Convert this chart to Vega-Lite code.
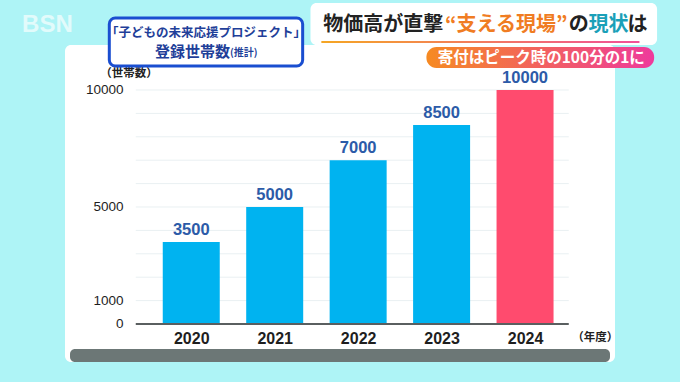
{
  "$schema": "https://vega.github.io/schema/vega-lite/v6.json",
  "width": 550,
  "height": 317,
  "autosize": {"type": "none"},
  "padding": {"left": 65, "top": 45, "right": 65, "bottom": 20},
  "background": "#aef4f6",
  "config": {
    "view": {"fill": "white", "stroke": null, "cornerRadius": 6},
    "font": "Noto Sans CJK JP"
  },
  "datasets": {
    "households": [
      {"year": 2020, "value": 3500},
      {"year": 2021, "value": 5000},
      {"year": 2022, "value": 7000},
      {"year": 2023, "value": 8500},
      {"year": 2024, "value": 10000}
    ],
    "grid": [
      {"v": 1000}, {"v": 2000}, {"v": 3000}, {"v": 4000}, {"v": 5000},
      {"v": 6000}, {"v": 7000}, {"v": 8000}, {"v": 9000}, {"v": 10000}
    ]
  },
  "layer": [
    {
      "data": {"values": [{}]},
      "mark": {"type": "rect", "color": "#6c7776", "cornerRadius": 5},
      "encoding": {
        "x": {"datum": 2018.547, "type": "quantitative"},
        "x2": {"datum": 2025.018},
        "y": {"datum": -1068, "type": "quantitative"},
        "y2": {"datum": -1624}
      }
    },
    {
      "data": {"name": "grid"},
      "mark": {"type": "rule", "color": "#e9f0f2", "strokeWidth": 1},
      "encoding": {
        "x": {"datum": 2019.335, "type": "quantitative"},
        "x2": {"datum": 2024.524},
        "y": {"field": "v", "type": "quantitative", "title": null}
      }
    },
    {
      "data": {"name": "households"},
      "mark": {"type": "bar", "width": 57, "orient": "vertical"},
      "encoding": {
        "x": {
          "field": "year", "type": "quantitative", "title": null,
          "scale": {"domain": [2018.547, 2025.018], "nice": false, "zero": false},
          "axis": {
            "orient": "bottom", "offset": -38, "values": [2020, 2021, 2022, 2023, 2024],
            "format": "d", "grid": false, "ticks": false, "domain": false,
            "labelPadding": 6, "labelFontSize": 16, "labelFontWeight": "bold",
            "labelFont": "Liberation Sans", "labelColor": "#1e1e1e", "title": null
          }
        },
        "y": {
          "field": "value", "type": "quantitative", "title": null,
          "scale": {"domain": [-1624, 11923], "nice": false, "zero": false},
          "axis": {
            "orient": "left", "offset": -58, "values": [0, 1000, 5000, 10000],
            "format": "d", "grid": false, "ticks": false, "domain": false,
            "labelPadding": 0, "labelFontSize": 13.5, "labelFont": "Liberation Sans",
            "labelColor": "#1e1e1e", "title": null
          }
        },
        "y2": {"datum": 0},
        "color": {
          "condition": {"test": "datum.year === 2024", "value": "#ff4b6e"},
          "value": "#00b3f0"
        }
      }
    },
    {
      "data": {"values": [{}]},
      "mark": {"type": "rule", "color": "#5a5f60", "strokeWidth": 2},
      "encoding": {
        "x": {"datum": 2019.335, "type": "quantitative"},
        "x2": {"datum": 2024.524},
        "y": {"datum": 0, "type": "quantitative"}
      }
    },
    {
      "data": {"name": "households"},
      "mark": {"type": "text", "baseline": "bottom", "dy": -4, "fontSize": 16.5, "fontWeight": "bold", "font": "Liberation Sans", "color": "#2c5ba8"},
      "encoding": {
        "x": {"field": "year", "type": "quantitative", "title": null},
        "y": {"field": "value", "type": "quantitative", "title": null},
        "text": {"field": "value", "type": "quantitative", "format": "d"}
      }
    },
    {
      "data": {"values": [{}]},
      "mark": {"type": "text", "fontSize": 11.5, "color": "#222222", "fontWeight": "bold"},
      "encoding": {
        "x": {"datum": 2019.253, "type": "quantitative"},
        "y": {"datum": 10684, "type": "quantitative"},
        "text": {"value": "（世帯数）"}
      }
    },
    {
      "data": {"values": [{}]},
      "mark": {"type": "text", "fontSize": 11.5, "color": "#222222", "fontWeight": "bold"},
      "encoding": {
        "x": {"datum": 2024.841, "type": "quantitative"},
        "y": {"datum": -598, "type": "quantitative"},
        "text": {"value": "（年度）"}
      }
    },
    {
      "data": {"values": [{}]},
      "mark": {"type": "text", "fontSize": 24, "fontWeight": "bold", "color": "white", "opacity": 0.65, "font": "Liberation Sans"},
      "encoding": {
        "x": {"datum": 2018.276, "type": "quantitative"},
        "y": {"datum": 12778, "type": "quantitative"},
        "text": {"value": "BSN"}
      }
    },
    {
      "data": {"values": [{}]},
      "mark": {"type": "rect", "fill": "white", "stroke": "#1a4ed0", "strokeWidth": 3, "cornerRadius": 6},
      "encoding": {
        "x": {"datum": 2019.018, "type": "quantitative"},
        "x2": {"datum": 2021.335},
        "y": {"datum": 13077, "type": "quantitative"},
        "y2": {"datum": 11026}
      }
    },
    {
      "data": {"values": [{}]},
      "mark": {"type": "text", "fontSize": 12.5, "fontWeight": "bold", "color": "#1f3f99"},
      "encoding": {
        "x": {"datum": 2020.176, "type": "quantitative"},
        "y": {"datum": 12436, "type": "quantitative"},
        "text": {"value": "「子どもの未来応援プロジェクト」"}
      }
    },
    {
      "data": {"values": [{}]},
      "mark": {"type": "text", "fontSize": 15, "fontWeight": "bold", "color": "#1f3f99", "align": "right"},
      "encoding": {
        "x": {"datum": 2020.465, "type": "quantitative"},
        "y": {"datum": 11624, "type": "quantitative"},
        "text": {"value": "登録世帯数"}
      }
    },
    {
      "data": {"values": [{}]},
      "mark": {"type": "text", "fontSize": 10, "fontWeight": "bold", "color": "#1f3f99", "align": "left"},
      "encoding": {
        "x": {"datum": 2020.465, "type": "quantitative"},
        "y": {"datum": 11581, "type": "quantitative"},
        "text": {"value": "(推計)"}
      }
    },
    {
      "data": {"values": [{}]},
      "mark": {"type": "rect", "fill": "white", "cornerRadius": 6},
      "encoding": {
        "x": {"datum": 2021.429, "type": "quantitative"},
        "x2": {"datum": 2025.582},
        "y": {"datum": 13718, "type": "quantitative"},
        "y2": {"datum": 11923}
      }
    },
    {
      "data": {"values": [{}]},
      "mark": {
        "type": "rect",
        "fill": {"gradient": "linear", "x1": 0, "y1": 0, "x2": 1, "y2": 0,
          "stops": [{"offset": 0, "color": "#f5a623"}, {"offset": 1, "color": "#f0509a"}]}
      },
      "encoding": {
        "x": {"datum": 2021.559, "type": "quantitative"},
        "x2": {"datum": 2025.371},
        "y": {"datum": 12094, "type": "quantitative"},
        "y2": {"datum": 12009}
      }
    },
    {
      "data": {"values": [{}]},
      "mark": {"type": "text", "fontSize": 20, "fontWeight": "bold", "color": "#222222", "align": "left"},
      "encoding": {
        "x": {"datum": 2021.582, "type": "quantitative"},
        "y": {"datum": 12778, "type": "quantitative"},
        "text": {"value": "物価高が直撃"}
      }
    },
    {
      "data": {"values": [{}]},
      "mark": {"type": "text", "fontSize": 20, "fontWeight": "bold", "color": "#f07c22", "align": "left"},
      "encoding": {
        "x": {"datum": 2023.041, "type": "quantitative"},
        "y": {"datum": 12778, "type": "quantitative"},
        "text": {"value": "“支える現場”"}
      }
    },
    {
      "data": {"values": [{}]},
      "mark": {"type": "text", "fontSize": 20, "fontWeight": "bold", "color": "#222222", "align": "left"},
      "encoding": {
        "x": {"datum": 2024.523, "type": "quantitative"},
        "y": {"datum": 12778, "type": "quantitative"},
        "text": {"value": "の"}
      }
    },
    {
      "data": {"values": [{}]},
      "mark": {"type": "text", "fontSize": 20, "fontWeight": "bold", "color": "#1aa0b8", "align": "left"},
      "encoding": {
        "x": {"datum": 2024.759, "type": "quantitative"},
        "y": {"datum": 12778, "type": "quantitative"},
        "text": {"value": "現状"}
      }
    },
    {
      "data": {"values": [{}]},
      "mark": {"type": "text", "fontSize": 20, "fontWeight": "bold", "color": "#222222", "align": "left"},
      "encoding": {
        "x": {"datum": 2025.229, "type": "quantitative"},
        "y": {"datum": 12778, "type": "quantitative"},
        "text": {"value": "は"}
      }
    },
    {
      "data": {"values": [{}]},
      "mark": {
        "type": "rect", "cornerRadius": 10,
        "fill": {"gradient": "linear", "x1": 0, "y1": 0, "x2": 1, "y2": 0,
          "stops": [{"offset": 0, "color": "#f68a22"}, {"offset": 1, "color": "#ee3a9c"}]}
      },
      "encoding": {
        "x": {"datum": 2022.818, "type": "quantitative"},
        "x2": {"datum": 2025.547},
        "y": {"datum": 11838, "type": "quantitative"},
        "y2": {"datum": 10940}
      }
    },
    {
      "data": {"values": [{}]},
      "mark": {"type": "text", "fontSize": 15.5, "fontWeight": "bold", "color": "white"},
      "encoding": {
        "x": {"datum": 2024.194, "type": "quantitative"},
        "y": {"datum": 11368, "type": "quantitative"},
        "text": {"value": "寄付はピーク時の100分の1に"}
      }
    }
  ]
}
